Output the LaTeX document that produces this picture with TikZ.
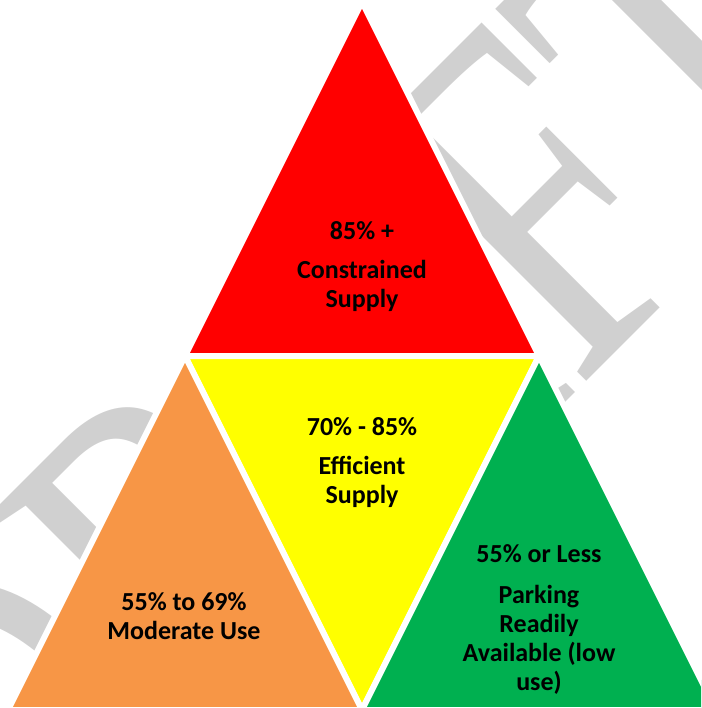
\documentclass[tikz,border=0pt]{standalone}
\usepackage{fontspec}
\usepackage{graphicx}
\setmainfont{Carlito}
\newfontfamily\wmfont{Liberation Serif}
\definecolor{zonered}{RGB}{255,0,0}
\definecolor{zoneyellow}{RGB}{255,255,0}
\definecolor{zoneorange}{RGB}{247,150,70}
\definecolor{zonegreen}{RGB}{0,176,80}
\definecolor{wmgray}{RGB}{208,208,208}
\tikzset{
  zone/.style={draw=white, line width=6pt, line join=miter},
  zonetext/.style={align=center, inner sep=0pt,
    font=\bfseries\fontsize{26}{29}\selectfont}
}

\begin{document}
\begin{tikzpicture}[x=1pt,y=-1pt]
  %tikz  occupancy pyramid, 4 zones
  \useasboundingbox (0,0) rectangle (701,708);
  \clip (0,0) rectangle (701,708);
  \coordinate (top) at (362,2);
  \coordinate (bl) at (8,710);
  \coordinate (br) at (716,710);
  \coordinate (ml) at (185,356);
  \coordinate (mr) at (539,356);
  \coordinate (mb) at (362,710);
  % watermark behind
  \node[rotate=45, anchor=base, inner sep=0pt, text=wmgray,
    font=\wmfont\fontsize{500}{500}\selectfont] (draft) at (454,514)
    {\scalebox{0.74}[1]{DRAFT}};
  \filldraw[zone, fill=zonered] (top) -- (ml) -- (mr) -- cycle;
  \filldraw[zone, fill=zoneyellow] (ml) -- (mr) -- (mb) -- cycle;
  \filldraw[zone, fill=zoneorange] (ml) -- (bl) -- (mb) -- cycle;
  \filldraw[zone, fill=zonegreen] (mr) -- (mb) -- (br) -- cycle;
  \node[zonetext] (constrained) at (362,267) {85\% +\\[10pt]Constrained\\Supply};
  \node[zonetext] (efficient) at (362,463) {70\% - 85\%\\[10pt]Efficient\\Supply};
  \node[zonetext] (moderate) at (184,616) {55\% to 69\%\\Moderate Use};
  \node[zonetext] (available) at (539,619) {55\% or Less\\[12pt]Parking\\Readily\\Available (low\\use)};
\end{tikzpicture}
\end{document}
